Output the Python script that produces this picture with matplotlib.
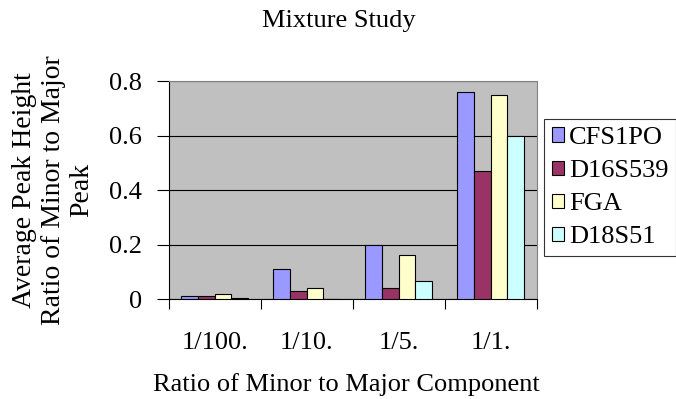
import matplotlib
matplotlib.use("Agg")
import matplotlib.pyplot as plt
import numpy as np

categories = ["1/100.", "1/10.", "1/5.", "1/1."]
series_names = ["CFS1PO", "D16S539", "FGA", "D18S51"]
cfs1po = [0.01, 0.11, 0.20, 0.76]
d16s539 = [0.01, 0.028, 0.04, 0.47]
fga = [0.018, 0.04, 0.16, 0.75]
d18s51 = [0.005, 0.0, 0.065, 0.60]
yticks = [0, 0.2, 0.4, 0.6, 0.8]
ytick_labels = ["0", "0.2", "0.4", "0.6", "0.8"]

colors = ["#9999FF", "#993366", "#FFFFCC", "#CCFFFF"]
values = [cfs1po, d16s539, fga, d18s51]

plt.rcParams["font.family"] = ["Liberation Serif", "DejaVu Serif"]
FS = 19

fig = plt.figure(figsize=(6.76, 3.99), dpi=100)
W, H = 676, 399
left, right, top, bottom = 168.7, 536.5, 81.3, 299.0
ax = fig.add_axes([left / W, 1 - bottom / H, (right - left) / W, (bottom - top) / H])
ax.set_facecolor("#C0C0C0")

x = np.arange(len(categories))
bw = 1 / 5.5
for i, (name, vals, c) in enumerate(zip(series_names, values, colors)):
    ax.bar(x - 1.5 * bw + i * bw, vals, width=bw, color=c, edgecolor="black",
           linewidth=0.8, label=name, zorder=3)

ax.set_xlim(-0.5, len(categories) - 0.5)
ax.set_ylim(0, 0.8)
ax.set_yticks(yticks)
ax.set_yticklabels(ytick_labels, fontsize=FS)
ax.yaxis.grid(True, color="black", linewidth=0.8, zorder=1)
ax.set_axisbelow(True)

# category labels centred, ticks at the category boundaries
ax.set_xticks(x)
ax.set_xticklabels(categories, fontsize=FS)
ax.tick_params(axis="x", which="major", length=0, pad=24)
ax.set_xticks(np.arange(len(categories) + 1) - 0.5, minor=True)
ax.tick_params(axis="x", which="minor", length=7, width=0.8, direction="out")
ax.tick_params(axis="y", length=9, width=0.8, pad=10, direction="out")

for s in ["top", "right"]:
    ax.spines[s].set_color("#808080")
    ax.spines[s].set_linewidth(0.8)
for s in ["left", "bottom"]:
    ax.spines[s].set_color("black")
    ax.spines[s].set_linewidth(0.8)

fig.text(339 / W, 1 - 21 / H, "Mixture Study", fontsize=FS, ha="center", va="center")
fig.text(346 / W, 1 - 385 / H, "Ratio of Minor to Major Component", fontsize=FS,
         ha="center", va="center")
fig.text(53 / W, 1 - 190 / H, "Average Peak Height\nRatio of Minor to Major\nPeak",
         fontsize=20, ha="center", va="center", rotation=90, linespacing=1.2,
         multialignment="center")

leg = fig.legend(loc="upper left", bbox_to_anchor=(544 / W, 1 - 119 / H),
                 fontsize=FS, frameon=True, fancybox=False, handlelength=0.45,
                 handleheight=0.45, handletextpad=0.2, labelspacing=0.42,
                 borderpad=0.3, borderaxespad=0)
leg.get_frame().set_edgecolor("black")
leg.get_frame().set_linewidth(0.8)
for h in leg.legend_handles:
    h.set_linewidth(0.8)

fig.savefig("out.png", dpi=100)
